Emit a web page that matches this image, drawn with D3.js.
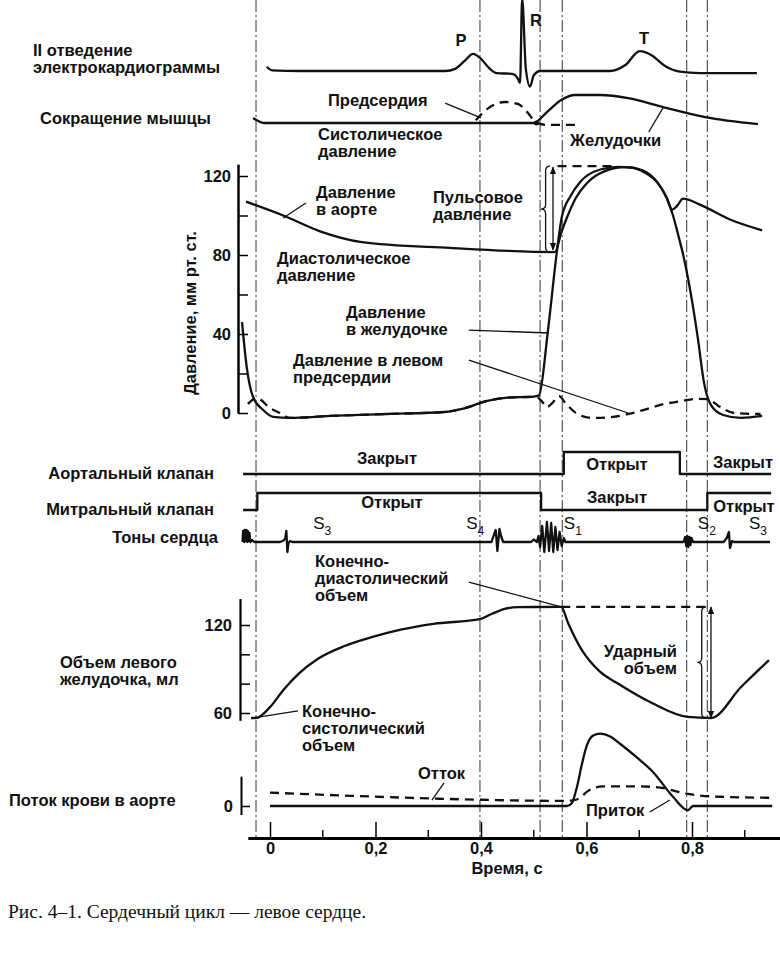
<!DOCTYPE html>
<html lang="ru">
<head>
<meta charset="utf-8">
<title>Сердечный цикл</title>
<script src="https://cdn.jsdelivr.net/npm/d3@7"></script>
<style>
  body { margin: 0; background: #fff; }
  svg text { font-family: "Liberation Sans", Arial, sans-serif; fill: #111; font-weight: bold; font-size: 16.5px; }
  .curve { fill: none; stroke: #111; stroke-width: 2.3; stroke-linejoin: round; }
  .dash { stroke-dasharray: 9,6; }
  .thin { fill: none; stroke: #111; stroke-width: 1.3; }
  .ev { stroke: #333; stroke-width: 1; stroke-dasharray: 12,3,2,3; }
  .cap { font-family: "Liberation Serif", "Times New Roman", serif; font-weight: normal; font-size: 19.5px; }
  .s { font-weight: normal; font-size: 17px; }
</style>
</head>
<body>
<svg id="chart" width="780" height="954"></svg>
<script>
// time of the dotted event lines, s
var eventTimes = [-0.0265, 0.398, 0.512, 0.554, 0.79, 0.829];

// ECG lead II: [time s, mV]
var ecg = [[-0.006,0.06],[0.004,0.01],[0.057,0],[0.332,0],[0.351,0.03],[0.37,0.15],[0.385,0.24],[0.4,0.17],
  [0.417,0.03],[0.43,-0.03],[0.459,-0.04],[0.47,-0.11],[0.474,-0.17],[0.478,1.02],[0.485,0.03],[0.493,-0.22],
  [0.5,-0.06],[0.512,0],[0.645,0],[0.673,0.08],[0.701,0.28],[0.724,0.22],[0.749,0.07],[0.777,-0.01],[0.815,-0.03],[0.923,-0.03]];

// muscle contraction, relative
var ventricleContr = [[-0.032,0.18],[-0.01,0],[0.2,0],[0.499,0],[0.525,0.39],[0.552,0.82],[0.578,1.0],[0.626,1.0],
  [0.679,0.89],[0.745,0.57],[0.825,0.21],[0.925,-0.04]];
var atriaContr = [[0.39,0.1],[0.417,0.57],[0.445,0.75],[0.47,0.68],[0.489,0.36],[0.504,0.02],[0.527,-0.07],[0.58,-0.07]];

// pressures, mm Hg
var aorticP = [[-0.0455,107],[0.025,100],[0.095,92],[0.171,86.7],[0.341,83.6],[0.54,81.5],[0.553,92],[0.563,99],
  [0.58,109],[0.601,116.5],[0.635,122.5],[0.673,124.5],[0.705,123],[0.735,116.5],[0.752,109],[0.762,103],[0.772,105],
  [0.783,108.5],[0.815,105.5],[0.872,98],[0.933,92.5]];
var ventricleP = [[-0.053,46],[-0.044,23],[-0.032,8],[-0.013,1.5],[0.006,-2],[0.038,-2.5],[0.114,-1.5],[0.222,-0.5],
  [0.33,0.5],[0.37,2.5],[0.41,6],[0.45,7.8],[0.5,8.3],[0.51,9],[0.527,42],[0.544,82],[0.553,99],[0.57,110],
  [0.588,117],[0.626,123.3],[0.66,124.6],[0.685,124.3],[0.71,121.8],[0.735,116.5],[0.752,109],[0.764,100],[0.774,90],
  [0.785,78],[0.798,60],[0.811,38],[0.823,15],[0.836,4],[0.859,-1],[0.893,-2.5],[0.933,-1.5]];
var atrialP = [[-0.042,4.6],[-0.025,7.6],[0,2.5],[0.019,0],[0.038,-2.5],[0.114,-1.5],[0.222,-0.5],[0.33,0.5],
  [0.37,2.5],[0.41,6],[0.45,7.8],[0.505,8.2],[0.515,6],[0.525,3],[0.535,5],[0.548,8.5],[0.56,5],[0.58,0],
  [0.61,-2.5],[0.65,-2],[0.68,-0.5],[0.714,2],[0.748,4.6],[0.78,6],[0.81,7.2],[0.83,7],[0.85,3.6],[0.88,0],[0.93,-0.5]];
var systolicLevel = 125, diastolicLevel = 81.5, systolicSpan = [0.545, 0.655];

// valves: 1 = open
var aorticValve = [[-0.051,0],[0.557,1],[0.777,0],[0.95,0]];
var mitralValve = [[-0.051,0],[-0.024,1],[0.514,0],[0.829,1],[0.95,1]];

// heart sounds, relative amplitude
var tones = [[-0.052,0],[-0.051,1.1],[-0.049,0],[-0.048,1.2],[-0.046,0.1],[-0.045,1.2],[-0.043,0],[-0.042,1.1],
  [-0.04,0.1],[-0.039,0.9],[-0.037,0],[-0.034,0.2],[-0.03,0],
  [0.019,0],[0.026,0.15],[0.029,0.4],[0.031,1.1],[0.033,-1.0],[0.035,-0.1],[0.038,0.1],[0.042,0],
  [0.42,0],[0.425,0.8],[0.428,1.2],[0.431,-0.9],[0.435,1.3],[0.438,0.6],[0.442,0],
  [0.495,0],[0.5,0.25],[0.506,0],[0.509,0.6],[0.512,-0.5],[0.516,1.6],[0.52,-1],[0.525,2],[0.529,-0.9],
  [0.533,1.9],[0.537,-1],[0.541,1.5],[0.545,-0.8],[0.549,1.0],[0.553,-0.4],[0.557,0.4],[0.56,0],
  [0.784,0],[0.787,0.5],[0.789,-0.4],[0.791,0.6],[0.793,-0.5],[0.795,0.5],[0.797,-0.3],[0.799,0.4],[0.802,0],
  [0.86,0],[0.866,0.4],[0.87,1.0],[0.872,-0.6],[0.876,0.1],[0.88,0],[0.948,0]];
var toneLabels = [["3",0.082],["4",0.372],["1",0.557],["2",0.811],["3",0.908]];

// left ventricular volume, ml
var volume = [[-0.036,56.6],[-0.0265,56.6],[0,64],[0.025,75.5],[0.055,87],[0.091,97],[0.14,105.5],[0.191,111.5],
  [0.25,117],[0.31,120.8],[0.398,124],[0.42,127.5],[0.445,131],[0.47,132.2],[0.552,132.3],[0.565,121.4],
  [0.591,103],[0.626,88],[0.658,80.4],[0.724,66.8],[0.792,57.3],[0.836,56.6],[0.893,77.7],[0.946,96]];
var edv = 132.3, esv = 56.6, edvSpan = [0.552, 0.836];

// aortic flow, ml/s
var flowOut = [[0,0],[0.563,0],[0.572,20],[0.582,135],[0.591,290],[0.601,430],[0.612,495],[0.626,510],[0.645,490],
  [0.663,440],[0.696,340],[0.726,240],[0.764,65],[0.792,-30],[0.802,0],[0.952,0]];
var flowIn = [[0,94],[0.152,72],[0.322,51],[0.56,36],[0.575,40],[0.588,58],[0.601,101],[0.631,138],[0.696,138],
  [0.739,130],[0.772,101],[0.802,80],[0.853,65],[0.948,58]];

// ticks
var pressureLabels = [0, 40, 80, 120];
var pressureTicks = [0, 20, 40, 60, 80, 100, 120];
var volumeLabels = [60, 120];
var volumeTicks = [60, 80, 100, 120];
var timeLabels = [0, 0.2, 0.4, 0.6, 0.8];
var timeMinor = [0.1, 0.3, 0.5, 0.7, 0.9];

var svg = d3.select("#chart");
var axisY = 838;

var x = d3.scaleLinear().domain([0, 0.8]).range([270, 692]);
var yEcg = d3.scaleLinear().domain([0, 1]).range([71, 0]);
var yMus = d3.scaleLinear().domain([0, 1]).range([123, 95]);
var yP = d3.scaleLinear().domain([0, 120]).range([413, 176]);
var yAo = d3.scaleLinear().domain([0, 1]).range([474, 452]);
var yMi = d3.scaleLinear().domain([0, 1]).range([510, 493]);
var yTone = d3.scaleLinear().domain([-1, 2]).range([552, 522]);
var yV = d3.scaleLinear().domain([60, 120]).range([713, 625]);
var yF = d3.scaleLinear().domain([0, 500]).range([806, 735]);

var defs = svg.append("defs");
defs.append("marker").attr("id", "ah")
  .attr("viewBox", "0 0 10 10").attr("refX", 9).attr("refY", 5)
  .attr("markerWidth", 8).attr("markerHeight", 8).attr("markerUnits", "userSpaceOnUse")
  .attr("orient", "auto-start-reverse")
  .append("path").attr("d", "M0,1L10,5L0,9z").attr("fill", "#111");

function lineFor(ys, curve) {
  return d3.line().x(d => x(d[0])).y(d => ys(d[1])).curve(curve || d3.curveMonotoneX);
}
function draw(data, ys, cls, curve) {
  return svg.append("path").datum(data).attr("class", cls).attr("d", lineFor(ys, curve));
}
function seg(t1, v1, t2, v2, ys, cls) {
  return svg.append("line").attr("class", cls || "thin")
    .attr("x1", x(t1)).attr("y1", ys(v1)).attr("x2", x(t2)).attr("y2", ys(v2));
}
function brace(t, ys, v1, v2, w) {
  var bx = x(t), y1 = ys(v2), y2 = ys(v1), m = (y1 + y2) / 2, h = w / 2;
  svg.append("path").attr("class", "thin").attr("d",
    `M${bx},${y1} Q${bx-h},${y1} ${bx-h},${y1+h} L${bx-h},${m-h} Q${bx-h},${m} ${bx-w},${m}` +
    ` Q${bx-h},${m} ${bx-h},${m+h} L${bx-h},${y2-h} Q${bx-h},${y2} ${bx},${y2}`);
}
function label(lines, lx, ly, anchor, cls) {
  var t = svg.append("text").attr("x", lx).attr("y", ly).attr("text-anchor", anchor || "start");
  if (cls) t.attr("class", cls);
  lines.forEach((s, i) => t.append("tspan").attr("x", lx).attr("dy", i ? 17 : 0).text(s));
}

// event lines
svg.selectAll("line.ev").data(eventTimes).enter().append("line")
  .attr("class", "ev")
  .attr("x1", d => x(d)).attr("x2", d => x(d))
  .attr("y1", 0).attr("y2", axisY);

// ECG
draw(ecg, yEcg, "curve").attr("stroke-width", 2);
label(["II отведение", "электрокардиограммы"], 33, 56);
label(["P"], 461, 46, "middle");
label(["R"], 536, 26, "middle");
label(["T"], 644, 44, "middle");

// muscle contraction
draw(ventricleContr, yMus, "curve").attr("stroke-width", 2);
draw(atriaContr, yMus, "curve dash").attr("stroke-width", 2);
svg.append("circle").attr("cx", x(0.505)).attr("cy", yMus(0)).attr("r", 2.5).attr("fill", "#111");
label(["Сокращение мышцы"], 40, 124);
label(["Предсердия"], 328, 106);
seg(0.332, 0.71, 0.4, 0.18, yMus);
label(["Желудочки"], 570, 146);
seg(0.718, -0.32, 0.745, 0.54, yMus);
label(["Систолическое", "давление"], 318, 140);

// pressure axis
var pAxis = d3.axisRight(yP.copy().domain([0, 126]).range([yP(0), yP(126)]))
  .tickValues(pressureTicks).tickSize(10).tickSizeOuter(0).tickFormat("");
svg.append("g").attr("transform", "translate(238,0)").call(pAxis)
  .call(g => g.select(".domain").attr("stroke-width", 2.5))
  .call(g => g.selectAll(".tick line").attr("stroke-width", 1.5));
svg.selectAll("text.pl").data(pressureLabels).enter().append("text")
  .attr("class", "pl").attr("x", 231).attr("y", d => yP(d) + 6)
  .attr("text-anchor", "end").text(d => d);
svg.append("text").attr("transform", "translate(196,313) rotate(-90)")
  .attr("text-anchor", "middle").text("Давление, мм рт. ст.");

// pressure curves
draw(atrialP, yP, "curve dash");
draw(aorticP, yP, "curve");
draw(ventricleP, yP, "curve");
seg(systolicSpan[0], systolicLevel, systolicSpan[1], systolicLevel, yP, "curve dash");
svg.append("line").attr("class", "thin")
  .attr("x1", x(0.5365)).attr("x2", x(0.5365))
  .attr("y1", yP(diastolicLevel) - 2).attr("y2", yP(systolicLevel) + 1)
  .attr("marker-start", "url(#ah)").attr("marker-end", "url(#ah)");
brace(0.531, yP, diastolicLevel, systolicLevel, 9);

label(["Давление", "в аорте"], 316, 198);
seg(0.025, 98.7, 0.068, 106.3, yP);
label(["Пульсовое", "давление"], 433, 203);
label(["Диастолическое", "давление"], 277, 264);
label(["Давление", "в желудочке"], 346, 318);
seg(0.377, 42, 0.529, 40.5, yP);
label(["Давление в левом", "предсердии"], 293, 366);
seg(0.377, 26.8, 0.679, 0, yP);

// valves
draw(aorticValve, yAo, "curve", d3.curveStepAfter).attr("stroke-width", 2.5);
draw(mitralValve, yMi, "curve", d3.curveStepAfter).attr("stroke-width", 2.5);
label(["Аортальный клапан"], 214, 479, "end");
label(["Митральный клапан"], 214, 515, "end");
label(["Тоны сердца"], 218, 543, "end");
label(["Закрыт"], 387, 464, "middle");
label(["Открыт"], 617, 470, "middle");
label(["Закрыт"], 743, 468, "middle");
label(["Открыт"], 392, 508, "middle");
label(["Закрыт"], 617, 503, "middle");
label(["Открыт"], 744, 512, "middle");

// heart sounds
draw(tones, yTone, "curve", d3.curveLinear).attr("stroke-width", 1.4);
toneLabels.forEach(function(d) {
  var t = svg.append("text").attr("class", "s").attr("x", x(d[1])).attr("y", 529);
  t.append("tspan").text("S");
  t.append("tspan").attr("font-size", "12px").attr("dy", 6).text(d[0]);
});

// volume axis
var vAxis = d3.axisRight(yV.copy().domain([55, 138]).range([yV(55), yV(138)]))
  .tickValues(volumeTicks).tickSize(10).tickSizeOuter(0).tickFormat("");
svg.append("g").attr("transform", "translate(240,0)").call(vAxis)
  .call(g => g.select(".domain").attr("stroke-width", 2.2))
  .call(g => g.selectAll(".tick line").attr("stroke-width", 1.5));
svg.selectAll("text.vl").data(volumeLabels).enter().append("text")
  .attr("class", "vl").attr("x", 232).attr("y", d => yV(d) + 6)
  .attr("text-anchor", "end").text(d => d);
label(["Объем левого", "желудочка, мл"], 60, 668);

draw(volume, yV, "curve");
seg(edvSpan[0], edv, edvSpan[1], edv, yV, "curve dash");
svg.append("line").attr("class", "thin")
  .attr("x1", x(0.836)).attr("x2", x(0.836))
  .attr("y1", yV(esv)).attr("y2", yV(edv))
  .attr("marker-start", "url(#ah)").attr("marker-end", "url(#ah)");
brace(0.827, yV, esv, edv, 9);
label(["Конечно-", "диастолический", "объем"], 315, 567);
seg(0.377, 149.3, 0.552, 132.3, yV);
label(["Ударный", "объем"], 677, 657, "end");
label(["Конечно-", "систолический", "объем"], 302, 717);
seg(0.053, 61.4, -0.019, 57.3, yV);

// flow
var fAxis = d3.axisRight(yF.copy().domain([-60, 210]).range([yF(-60), yF(210)]))
  .tickValues([0]).tickSize(9).tickSizeOuter(0).tickFormat("");
svg.append("g").attr("transform", "translate(241,0)").call(fAxis)
  .call(g => g.select(".domain").attr("stroke-width", 2))
  .call(g => g.selectAll(".tick line").attr("stroke-width", 1.5));
svg.append("text").attr("x", 233).attr("y", yF(0) + 6).attr("text-anchor", "end").text("0");
label(["Поток крови в аорте"], 9, 806);
draw(flowIn, yF, "curve dash");
draw(flowOut, yF, "curve");
label(["Отток"], 418, 779);
seg(0.33, 162, 0.307, 42, yF);
label(["Приток"], 586, 816);
seg(0.72, -42, 0.758, 42, yF);

// time axis
var xa = x.copy().domain([-0.042, 0.967]).range([x(-0.042), x(0.967)]);
svg.append("g").attr("transform", `translate(0,${axisY})`)
  .call(d3.axisBottom(xa).tickValues(timeLabels).tickSize(-16).tickSizeOuter(0).tickPadding(4)
    .tickFormat(d => String(d).replace(".", ",")))
  .call(g => g.select(".domain").attr("stroke-width", 2.8))
  .call(g => g.selectAll(".tick line").attr("stroke-width", 1.5))
  .call(g => g.selectAll(".tick text").attr("font-size", "16.5px").attr("fill", "#111"));
svg.selectAll("line.minor").data(timeMinor).enter().append("line")
  .attr("class", "minor").attr("stroke", "#111").attr("stroke-width", 1.5)
  .attr("x1", d => x(d)).attr("x2", d => x(d)).attr("y1", axisY).attr("y2", axisY - 8);
svg.append("text").attr("x", 507).attr("y", 874).attr("text-anchor", "middle").text("Время, с");

svg.append("text").attr("class", "cap").attr("x", 8).attr("y", 918)
  .text("Рис. 4–1. Сердечный цикл — левое сердце.");
</script>
</body>
</html>
